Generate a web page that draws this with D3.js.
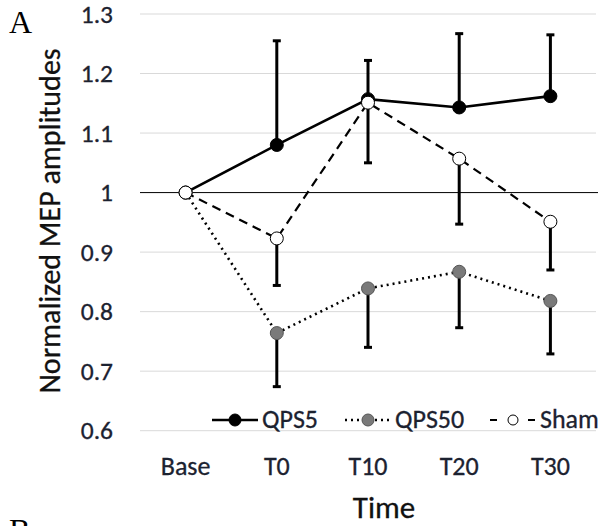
<!DOCTYPE html>
<html lang="en">
<head>
  <meta charset="UTF-8">
  <title>Normalized MEP amplitudes</title>
  <script src="https://d3js.org/d3.v7.min.js"></script>
  <style>
    body { margin: 0; background: #fff; }
  </style>
</head>
<body>
  <div id="chart"></div>

  <script>
    // data
    const categories = ["Base", "T0", "T10", "T20", "T30"];
    const yTicks = [0.6, 0.7, 0.8, 0.9, 1, 1.1, 1.2, 1.3];

    const qps5 = [1.0, 1.080, 1.157, 1.143, 1.162];
    const qps5Err = [null, 0.175, 0.065, 0.124, 0.103];   // upward

    const qps50 = [1.0, 0.764, 0.839, 0.867, 0.818];
    const qps50Err = [null, 0.090, 0.099, 0.094, 0.089];  // downward

    const sham = [1.0, 0.923, 1.151, 1.057, 0.951];
    const shamErr = [null, 0.079, 0.101, 0.110, 0.081];   // downward

    const W = 604, H = 526;
    const sans = "Carlito, Lato, 'Open Sans', sans-serif";
    const txt = "#1c2230";

    const svg = d3.select("#chart").append("svg")
      .attr("width", W).attr("height", H);

    const x = d3.scaleBand().domain(categories).range([140, 596]);
    const y = d3.scaleLinear().domain([0.6, 1.3]).range([430.7, 14]);
    const cx = c => x(c) + x.bandwidth() / 2;

    // gridlines
    svg.append("g").selectAll("line")
      .data(yTicks.filter(t => t !== 1))
      .enter().append("line")
      .attr("x1", 140).attr("x2", 596)
      .attr("y1", d => y(d)).attr("y2", d => y(d))
      .attr("stroke", "#d9d9d9").attr("stroke-width", 1);

    svg.append("line")
      .attr("x1", 140).attr("x2", 598)
      .attr("y1", y(1)).attr("y2", y(1))
      .attr("stroke", "#000").attr("stroke-width", 1);

    // y axis labels
    const yAxis = d3.axisLeft(y).tickValues(yTicks).tickSize(0).tickPadding(0)
      .tickFormat(d => d === 1 ? "1" : d3.format(".1f")(d));
    svg.append("g")
      .attr("transform", "translate(113,0)")
      .call(yAxis)
      .call(g => g.select(".domain").remove())
      .call(g => g.selectAll("text")
        .style("font-family", sans).style("font-size", "25.5px")
        .attr("fill", txt).attr("stroke", txt).attr("stroke-width", 0.3));

    // x axis labels
    const xAxis = d3.axisBottom(x).tickSize(0).tickPadding(0);
    svg.append("g")
      .attr("transform", "translate(0,457)")
      .call(xAxis)
      .call(g => g.select(".domain").remove())
      .call(g => g.selectAll("text")
        .style("font-family", sans).style("font-size", "26px")
        .attr("fill", txt).attr("stroke", txt).attr("stroke-width", 0.3));

    // axis titles
    svg.append("text")
      .attr("transform", "translate(60,221) rotate(-90)")
      .attr("text-anchor", "middle")
      .style("font-family", sans).style("font-size", "30px")
      .attr("fill", "#111").attr("stroke", "#111").attr("stroke-width", 0.3)
      .text("Normalized MEP amplitudes");

    svg.append("text")
      .attr("x", 384).attr("y", 518)
      .attr("text-anchor", "middle")
      .style("font-family", sans).style("font-size", "31px")
      .attr("fill", "#111").attr("stroke", "#111").attr("stroke-width", 0.3)
      .text("Time");

    // panel letters
    svg.append("text")
      .attr("x", 9).attr("y", 33)
      .style("font-family", "'Liberation Serif', serif").style("font-size", "32px")
      .text("A");
    svg.append("text")
      .attr("x", 9).attr("y", 541)
      .style("font-family", "'Liberation Serif', serif").style("font-size", "32px")
      .text("B");

    const series = [
      { name: "QPS5", vals: qps5, err: qps5Err, dir: 1, fill: "#000", dash: null, width: 2.6 },
      { name: "QPS50", vals: qps50, err: qps50Err, dir: -1, fill: "#7a7a7a", dash: "2,4", width: 2.6 },
      { name: "Sham", vals: sham, err: shamErr, dir: -1, fill: "#fff", dash: "9,6", width: 2.2 }
    ];

    const line = d3.line()
      .x((d, i) => cx(categories[i]))
      .y(d => y(d));

    series.forEach(s => {
      const g = svg.append("g");
      // error bars
      const eb = s.vals.map((v, i) => ({ c: categories[i], v: v, e: s.err[i] }))
        .filter(d => d.e != null);
      g.selectAll(".eb").data(eb).enter().append("line")
        .attr("x1", d => cx(d.c)).attr("x2", d => cx(d.c))
        .attr("y1", d => y(d.v)).attr("y2", d => y(d.v + s.dir * d.e))
        .attr("stroke", "#000").attr("stroke-width", 3);
      g.selectAll(".cap").data(eb).enter().append("line")
        .attr("x1", d => cx(d.c) - 4).attr("x2", d => cx(d.c) + 4)
        .attr("y1", d => y(d.v + s.dir * d.e)).attr("y2", d => y(d.v + s.dir * d.e))
        .attr("stroke", "#000").attr("stroke-width", 3);
      // line
      g.append("path")
        .attr("d", line(s.vals))
        .attr("fill", "none").attr("stroke", "#000")
        .attr("stroke-width", s.width)
        .attr("stroke-dasharray", s.dash);
      // markers
      g.selectAll("circle").data(s.vals).enter().append("circle")
        .attr("cx", (d, i) => cx(categories[i]))
        .attr("cy", d => y(d))
        .attr("r", 6.5)
        .attr("fill", s.fill).attr("stroke", s.name === "QPS50" ? "#555" : "#000")
        .attr("stroke-width", 1);
    });

    // legend
    const legendY = 420;
    const legendX = [212, 345, 490];
    const legendDash = [null, "2,4", "7,31"];
    series.forEach((s, i) => {
      const lx = legendX[i];
      const g = svg.append("g");
      g.append("line")
        .attr("x1", lx).attr("x2", lx + 46)
        .attr("y1", legendY).attr("y2", legendY)
        .attr("stroke", "#000").attr("stroke-width", s.width)
        .attr("stroke-dasharray", legendDash[i]);
      g.append("circle")
        .attr("cx", lx + 23).attr("cy", legendY)
        .attr("r", s.name === "Sham" ? 5 : 6)
        .attr("fill", s.fill).attr("stroke", s.name === "QPS50" ? "#555" : "#000")
        .attr("stroke-width", 1);
      g.append("text")
        .attr("x", lx + 50).attr("y", legendY + 8)
        .style("font-family", sans).style("font-size", "26px")
        .attr("fill", txt).attr("stroke", txt).attr("stroke-width", 0.3)
        .text(s.name);
    });
  </script>
</body>
</html>
